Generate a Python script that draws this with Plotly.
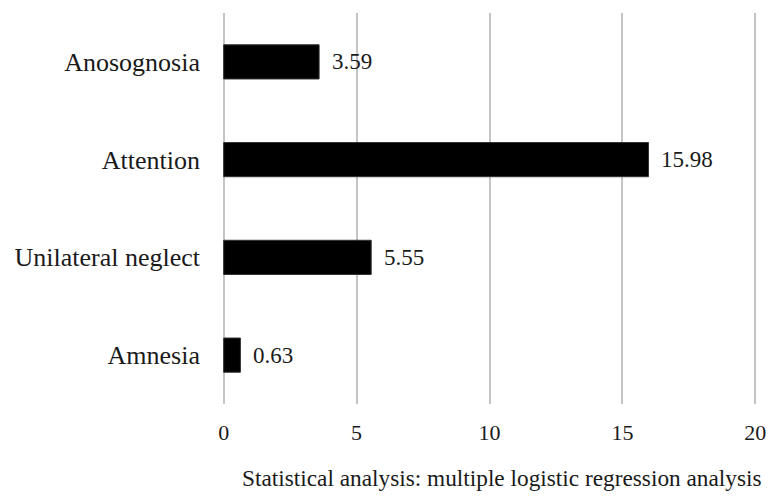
import plotly.graph_objects as go

categories = ["Anosognosia", "Attention", "Unilateral neglect", "Amnesia"]
values = [3.59, 15.98, 5.55, 0.63]
value_labels = ["3.59", "15.98", "5.55", "0.63"]
x_ticks = [0, 5, 10, 15, 20]
caption = "Statistical analysis: multiple logistic regression analysis"

FONT = "Liberation Serif, Times New Roman, serif"
TXT = "#1a1a1a"

fig = go.Figure()
fig.add_trace(go.Bar(
    x=values, y=categories, orientation="h",
    marker=dict(color="#000000", line=dict(color="#333333", width=1)),
    width=0.35,
    hoverinfo="skip",
))

for v, c, t in zip(values, categories, value_labels):
    fig.add_annotation(x=v, y=c, text=t, showarrow=False, xanchor="left",
                       xshift=11, font=dict(family=FONT, size=23, color=TXT))

fig.add_annotation(x=1, y=-0.19, xref="paper", yref="paper", text=caption,
                   showarrow=False, xanchor="right", yanchor="middle", xshift=6,
                   font=dict(family=FONT, size=23.3, color=TXT))

fig.update_layout(
    width=768, height=498,
    margin=dict(l=221, r=10, t=13, b=94),
    paper_bgcolor="white", plot_bgcolor="white",
    showlegend=False,
    font=dict(family=FONT, size=22, color=TXT),
    xaxis=dict(range=[-0.1, 20.1], tickvals=x_ticks, showgrid=True, gridcolor="#c4c4c4",
               gridwidth=1.5, zeroline=False, showline=False, ticks="", automargin=False,
               ticklabelstandoff=13, tickfont=dict(family=FONT, size=22, color=TXT)),
    yaxis=dict(categoryorder="array", categoryarray=categories[::-1], automargin=False,
               showgrid=False, zeroline=False, showline=False, ticks="",
               ticklabelstandoff=20, tickfont=dict(family=FONT, size=26, color=TXT)),
)

fig.write_html("out.html", config={"displayModeBar": False},
               post_script="document.body.style.margin='0';document.body.style.overflow='hidden';")
